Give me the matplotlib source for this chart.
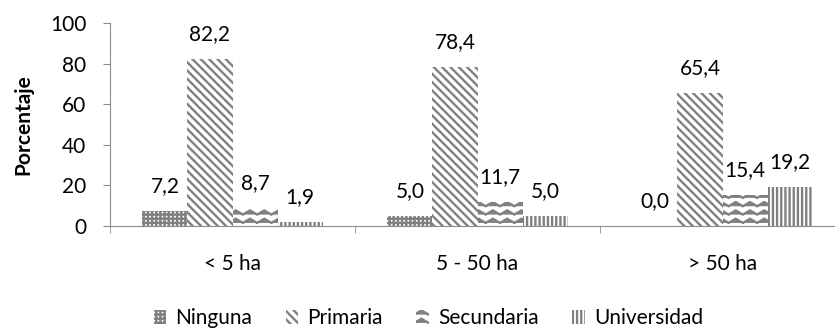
import numpy as np
import matplotlib
matplotlib.use("Agg")
import matplotlib.pyplot as plt
import matplotlib.hatch as mhatch
from matplotlib.path import Path

# datos
categorias = ["< 5 ha", "5 - 50 ha", "> 50 ha"]
series = ["Ninguna", "Primaria", "Secundaria", "Universidad"]
ninguna = [7.2, 5.0, 0.0]
primaria = [82.2, 78.4, 65.4]
secundaria = [8.7, 11.7, 15.4]
universidad = [1.9, 5.0, 19.2]
valores = [ninguna, primaria, secundaria, universidad]
tramas = ["++++", "\\\\\\\\", "oo", "||||"]


# trama ondulada (zigzag) en lugar de los circulos 'o'
class Ondas(mhatch.HatchPatternBase):
    def __init__(self, hatch, density):
        self.num_lines = int(hatch.count("o") * density)
        self.steps = 7
        self.num_vertices = self.num_lines * (2 * self.steps + 1)

    def set_vertices_and_codes(self, vertices, codes):
        n = 2 * self.steps + 1
        amp = 0.25 / max(self.num_lines, 1)
        xs = np.linspace(0, 1, n)
        ys_off = np.where(np.arange(n) % 2 == 0, -amp, amp)
        for i in range(self.num_lines):
            y0 = (i + 0.5) / self.num_lines
            vertices[i * n:(i + 1) * n, 0] = xs
            vertices[i * n:(i + 1) * n, 1] = y0 + ys_off
            codes[i * n] = Path.MOVETO
            codes[i * n + 1:(i + 1) * n] = Path.LINETO


mhatch._hatch_types = [t for t in mhatch._hatch_types
                       if t is not mhatch.SmallCircles] + [Ondas]

plt.rcParams["font.family"] = ["Lato", "DejaVu Sans"]
plt.rcParams["hatch.linewidth"] = 1.7

gris = "#808080"
eje = "#8c8c8c"
fs = 15

fig = plt.figure(figsize=(8.35, 3.29), dpi=100)
ax = fig.add_axes([110 / 835, 1 - 226 / 329, 735 / 835, (226 - 23) / 329])

x = np.arange(len(categorias))
ancho = 0.184
for k, (nombre, vals, trama) in enumerate(zip(series, valores, tramas)):
    pos = x + (k - 1.5) * ancho
    ax.bar(pos, vals, ancho, facecolor="white", edgecolor=gris,
           linewidth=0, hatch=trama, label=nombre)
    for xi, v in zip(pos, vals):
        ax.annotate(f"{v:.1f}".replace(".", ","), (xi, v), xytext=(0, 18),
                    textcoords="offset points", ha="center", va="center",
                    fontsize=fs)

ax.set_xlim(-0.5, 2.5)
ax.set_ylim(0, 100)
ax.set_yticks([0, 20, 40, 60, 80, 100])
ax.set_xticks(x)
ax.set_xticklabels(categorias)
ax.set_xticks([-0.5, 0.5, 1.5, 2.5], minor=True)
ax.tick_params(axis="x", which="major", length=0, pad=20, labelsize=fs)
ax.tick_params(axis="x", which="minor", length=5, color=eje, direction="out")
ax.tick_params(axis="y", length=5, color=eje, pad=12, labelsize=fs)

for lado in ["top", "right"]:
    ax.spines[lado].set_visible(False)
ax.spines["left"].set_color(eje)
ax.spines["bottom"].set_color(eje)

ax.set_ylabel("Porcentaje", fontsize=fs, fontweight="bold")
ax.yaxis.set_label_coords(-0.104, 0.5)

fig.legend(loc="lower center", bbox_to_anchor=(0.513, -0.055), ncol=4,
           frameon=False, fontsize=fs, handlelength=0.6, handleheight=0.6,
           handletextpad=0.45, columnspacing=1.6)

fig.savefig("out.png", dpi=100)
